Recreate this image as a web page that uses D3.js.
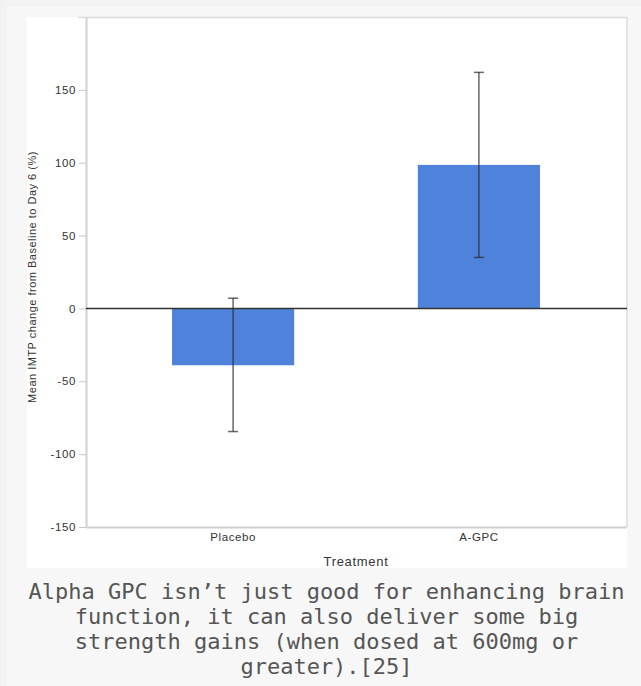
<!DOCTYPE html>
<html>
<head>
<meta charset="utf-8">
<script src="https://cdn.jsdelivr.net/npm/d3@7"></script>
<style>
  body { margin: 0; background: #f2f2f2; width: 641px; height: 686px; overflow: hidden; position: relative; }
  #panel { position: absolute; left: 7px; top: 6px; width: 634px; height: 680px; background: #f7f7f7; }
  #chart { position: absolute; left: 0; top: 0; }
  #caption {
    position: absolute; left: 21px; top: 579px; width: 611px;
    text-align: center; font-family: "DejaVu Sans Mono", monospace;
    font-size: 22px; line-height: 25px; color: #555;
  }
</style>
</head>
<body>
<div id="panel"></div>
<svg id="chart" width="641" height="686"></svg>
<div id="caption">Alpha GPC isn’t just good for enhancing brain function, it can also deliver some big strength gains (when dosed at 600mg or greater).[25]</div>
<script>
// values
const categories = ["Placebo", "A-GPC"];
const means = [-39, 98.5];
const errLow = [-84.5, 35];
const errHigh = [7, 162];
const yTicks = [-150, -100, -50, 0, 50, 100, 150];

const plot = {left: 86, right: 626, top: 17, bottom: 527};

const svg = d3.select("#chart");

// white image area
svg.append("rect")
   .attr("x", 27).attr("y", 17)
   .attr("width", 600).attr("height", 551)
   .attr("fill", "#fff");

const y = d3.scaleLinear().domain([-150, 200]).range([plot.bottom, plot.top]);
const x = d3.scaleBand().domain(categories).range([plot.left, plot.right])
   .paddingInner(0.503).paddingOuter(0.35);

// frame top and right
svg.append("path")
   .attr("d", `M78,${plot.top + 0.5}H${plot.right + 1}V${plot.bottom}`)
   .attr("fill", "none")
   .attr("stroke", "#dcdcdc")
   .attr("stroke-width", 1.5);

const gy = svg.append("g")
   .attr("transform", `translate(${plot.left},0)`)
   .call(d3.axisLeft(y).tickValues(yTicks).tickFormat(d => String(d))
      .tickSize(7).tickSizeOuter(0).tickPadding(3));
gy.select(".domain").attr("stroke", "#d0d0d0").attr("stroke-width", 2);
gy.selectAll(".tick line").attr("stroke", "#c8c8c8");
gy.selectAll(".tick text")
   .attr("fill", "#333")
   .style("font", "11.5px 'Liberation Sans', Arial, sans-serif")
   .style("letter-spacing", "0.6px");

const gx = svg.append("g")
   .attr("transform", `translate(0,${plot.bottom})`)
   .call(d3.axisBottom(x).tickSize(0).tickSizeOuter(0).tickPadding(6));
gx.select(".domain").attr("stroke", "#d0d0d0").attr("stroke-width", 2);
gx.selectAll(".tick text")
   .attr("fill", "#333")
   .style("font", "11.5px 'Liberation Sans', Arial, sans-serif")
   .style("letter-spacing", "0.6px");

// bars
svg.append("g").selectAll("rect")
   .data(categories)
   .join("rect")
   .attr("x", d => x(d))
   .attr("width", x.bandwidth())
   .attr("y", (d, i) => y(Math.max(0, means[i])))
   .attr("height", (d, i) => Math.abs(y(means[i]) - y(0)))
   .attr("fill", "#4f83db");

// zero line
svg.append("line")
   .attr("x1", plot.left).attr("x2", plot.right + 1)
   .attr("y1", y(0)).attr("y2", y(0))
   .attr("stroke", "#333")
   .attr("stroke-width", 1.5);

// error bars
const eb = svg.append("g")
   .attr("stroke", "rgba(40,40,40,0.7)")
   .attr("stroke-width", 1.5);
categories.forEach((c, i) => {
   const cx = x(c) + x.bandwidth() / 2;
   eb.append("line").attr("x1", cx).attr("x2", cx).attr("y1", y(errLow[i])).attr("y2", y(errHigh[i]));
   [errLow[i], errHigh[i]].forEach(v => {
      eb.append("line").attr("x1", cx - 5).attr("x2", cx + 5).attr("y1", y(v)).attr("y2", y(v));
   });
});

// axis titles
svg.append("text")
   .attr("x", 356).attr("y", 566)
   .attr("text-anchor", "middle")
   .attr("fill", "#333")
   .style("font", "13px 'Liberation Sans', Arial, sans-serif")
   .style("letter-spacing", "0.7px")
   .text("Treatment");

svg.append("text")
   .attr("transform", "translate(36,277) rotate(-90)")
   .attr("text-anchor", "middle")
   .attr("fill", "#333")
   .style("font", "11px 'Liberation Sans', Arial, sans-serif")
   .style("letter-spacing", "0.5px")
   .text("Mean IMTP change from Baseline to Day 6 (%)");
</script>
</body>
</html>
